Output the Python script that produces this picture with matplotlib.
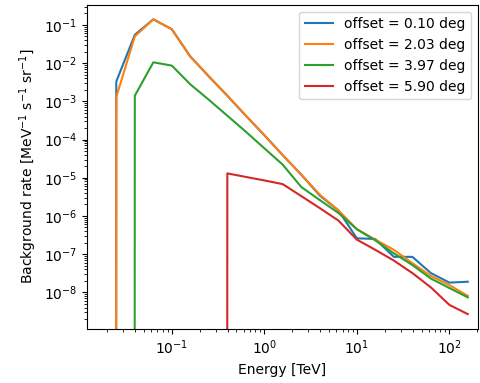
import numpy as np
import matplotlib
matplotlib.use("Agg")
import matplotlib.pyplot as plt

# Energy bin centres [TeV], five per decade
energy = [0.0158, 0.0251, 0.0398, 0.0631, 0.1, 0.158, 0.251, 0.398, 0.631, 1.0,
          1.58, 2.51, 3.98, 6.31, 10.0, 15.8, 25.1, 39.8, 63.1, 100.0, 158.0]

offsets = ["0.10", "2.03", "3.97", "5.90"]

rate_010 = [0, 3.3e-3, 5.5e-2, 1.4e-1, 7.7e-2, 1.5e-2, 4.5e-3, 1.4e-3, 4.2e-4, 1.3e-4,
            3.9e-5, 1.2e-5, 3.4e-6, 1.4e-6, 2.6e-7, 2.5e-7, 8.5e-8, 8.5e-8, 3.2e-8, 1.8e-8, 1.9e-8]
rate_203 = [0, 1.3e-3, 5.0e-2, 1.4e-1, 7.7e-2, 1.5e-2, 4.5e-3, 1.4e-3, 4.2e-4, 1.3e-4,
            3.9e-5, 1.2e-5, 3.6e-6, 1.4e-6, 4.5e-7, 2.4e-7, 1.3e-7, 5.8e-8, 2.7e-8, 1.55e-8, 8.1e-9]
rate_397 = [0, 0, 1.4e-3, 1.05e-2, 8.6e-3, 2.8e-3, 1.1e-3, 4.2e-4, 1.6e-4, 5.9e-5,
            2.2e-5, 5.7e-6, 2.6e-6, 1.2e-6, 4.5e-7, 2.3e-7, 1.05e-7, 5.2e-8, 2.3e-8, 1.3e-8, 7.4e-9]
rate_590 = [0, 0, 0, 0, 0, 0, 0, 1.3e-5, 1.05e-5, 8.5e-6,
            6.8e-6, 3.3e-6, 1.6e-6, 7.6e-7, 2.4e-7, 1.3e-7, 6.8e-8, 3.2e-8, 1.35e-8, 4.7e-9, 2.7e-9]

rates = [rate_010, rate_203, rate_397, rate_590]

fig = plt.figure(figsize=(4.81, 3.83), dpi=100)
ax = fig.add_axes([0.1815, 0.141, 0.8115, 0.847])

for off, r in zip(offsets, rates):
    ax.plot(energy, r, lw=1.5, label=f"offset = {off} deg")

ax.set_xscale("log")
ax.set_yscale("log")
ax.set_xlim(0.0122, 202)
ax.set_ylim(1.1e-9, 0.34)
ax.set_xlabel("Energy [TeV]", fontsize=10)
ax.set_ylabel(r"Background rate [MeV$^{-1}$ s$^{-1}$ sr$^{-1}$]", fontsize=10)
ax.tick_params(labelsize=10)
ax.legend(loc="upper right", fontsize=10)

fig.savefig("out.png", dpi=100)
